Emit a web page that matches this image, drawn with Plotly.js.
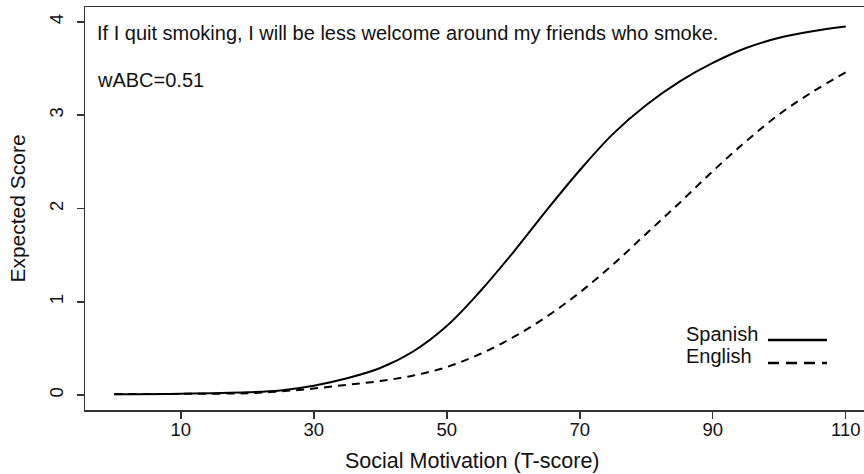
<!DOCTYPE html>
<html>
<head>
<meta charset="utf-8">
<script src="https://cdn.plot.ly/plotly-3.0.1.min.js"></script>
<style>
html,body{margin:0;padding:0;overflow:hidden;background:#fff;}
#chart{width:880px;height:474px;}
</style>
</head>
<body>
<div id="chart"></div>
<script>
// T-score grid
var tScores = [0, 10, 20, 25, 30, 35, 40, 45, 50, 55, 60, 65, 70, 75, 80, 85, 90, 95, 100, 105, 110];
// Expected score, Spanish version (solid)
var spanish = [0.01, 0.015, 0.03, 0.05, 0.1, 0.18, 0.29, 0.47, 0.74, 1.11, 1.53, 1.98, 2.41, 2.8, 3.11, 3.36, 3.56, 3.72, 3.83, 3.9, 3.95];
// Expected score, English version (dashed)
var english = [0.01, 0.013, 0.02, 0.04, 0.07, 0.11, 0.15, 0.21, 0.3, 0.44, 0.62, 0.84, 1.1, 1.4, 1.73, 2.06, 2.4, 2.72, 3.01, 3.25, 3.46];

var xTicks = [10, 30, 50, 70, 90, 110];
var yTicks = [0, 1, 2, 3, 4];
var itemText = "If I quit smoking, I will be less welcome around my friends who smoke.";
var statText = "wABC=0.51";
var seriesNames = ["Spanish", "English"];
var xTitle = "Social Motivation (T-score)";
var yTitle = "Expected Score";

var FONT = "Liberation Sans, Arial, sans-serif";

var traces = [
  {x: tScores, y: spanish, name: seriesNames[0], mode: "lines",
   line: {color: "#000", width: 2, shape: "spline", smoothing: 1}},
  {x: tScores, y: english, name: seriesNames[1], mode: "lines",
   line: {color: "#000", width: 2, dash: "8px,6px", shape: "spline", smoothing: 1}}
];

var layout = {
  width: 880, height: 474,
  margin: {l: 85, r: 5, t: 7, b: 64},
  paper_bgcolor: "#fff", plot_bgcolor: "#fff",
  showlegend: false,
  font: {family: FONT, size: 18.5, color: "#000"},
  xaxis: {
    range: [-4.4, 114.4], tickvals: xTicks, ticktext: xTicks.map(String),
    showgrid: false, zeroline: false,
    showline: true, mirror: true, linecolor: "#333", linewidth: 1.5,
    ticks: "outside", ticklen: 7, tickwidth: 1.5, tickcolor: "#333",
    ticklabelstandoff: -5,
    tickfont: {family: FONT, size: 18.5, color: "#111"}
  },
  yaxis: {
    range: [-0.16, 4.16], tickvals: yTicks, ticktext: yTicks.map(String),
    showgrid: false, zeroline: false,
    showline: true, mirror: true, linecolor: "#333", linewidth: 1.5,
    ticks: "outside", ticklen: 7, tickwidth: 1.5, tickcolor: "#333",
    tickangle: -90, ticklabelstandoff: 6,
    tickfont: {family: FONT, size: 18.5, color: "#111"},
    title: {text: yTitle, font: {family: FONT, size: 21, color: "#111"}, standoff: 14}
  },
  annotations: [
    {xref: "paper", yref: "paper", x: 0.49, y: -0.127, xanchor: "center", yanchor: "middle",
     text: xTitle, showarrow: false, font: {family: FONT, size: 21.5, color: "#111"}},
    {xref: "paper", yref: "paper", x: 0.0127, y: 0.9355, xanchor: "left", yanchor: "middle",
     text: itemText, showarrow: false, font: {family: FONT, size: 20, color: "#111"}},
    {xref: "paper", yref: "paper", x: 0.0127, y: 0.819, xanchor: "left", yanchor: "middle",
     text: statText, showarrow: false, font: {family: FONT, size: 20, color: "#111"}},
    {xref: "paper", yref: "paper", x: 0.758, y: 0.1886, xanchor: "left", yanchor: "middle",
     text: seriesNames[0], showarrow: false, font: {family: FONT, size: 20, color: "#111"}},
    {xref: "paper", yref: "paper", x: 0.758, y: 0.134, xanchor: "left", yanchor: "middle",
     text: seriesNames[1], showarrow: false, font: {family: FONT, size: 20, color: "#111"}}
  ],
  shapes: [
    {type: "line", xref: "paper", yref: "paper", x0: 0.8646, x1: 0.9392, y0: 0.1737, y1: 0.1737,
     line: {color: "#000", width: 2.5}},
    {type: "line", xref: "paper", yref: "paper", x0: 0.8646, x1: 0.9392, y0: 0.1166, y1: 0.1166,
     line: {color: "#000", width: 2.5, dash: "11px,7px"}}
  ]
};

Plotly.newPlot("chart", traces, layout, {displayModeBar: false, staticPlot: true});
</script>
</body>
</html>
